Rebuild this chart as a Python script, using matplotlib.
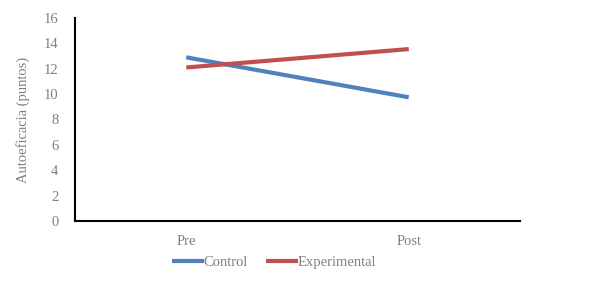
import matplotlib
matplotlib.use("Agg")
import matplotlib.pyplot as plt

categories = ["Pre", "Post"]
control = [12.9, 9.75]
experimental = [12.1, 13.55]

plt.rcParams["font.family"] = ["Liberation Serif", "DejaVu Serif"]
GRAY = "#7f7f7f"

fig = plt.figure(figsize=(6.08, 3.01), dpi=100)
ax = fig.add_axes([75 / 608, 1 - 221 / 301, 445 / 608, 203 / 301])

x = range(len(categories))
ax.plot(x, control, color="#4f81bd", lw=3, label="Control", solid_capstyle="butt")
ax.plot(x, experimental, color="#c0504d", lw=3, label="Experimental", solid_capstyle="butt")

ax.set_xlim(-0.5, 1.5)
ax.set_ylim(0, 16)
ax.set_yticks(range(0, 17, 2))
ax.set_xticks(list(x))
ax.set_xticklabels(categories)
ax.tick_params(length=0, colors=GRAY, labelsize=10.5)
ax.tick_params(axis="y", pad=12)
ax.tick_params(axis="x", pad=10)
for s in ["top", "right"]:
    ax.spines[s].set_visible(False)
for s in ["left", "bottom"]:
    ax.spines[s].set_color("black")
    ax.spines[s].set_linewidth(1.5)
ax.set_ylabel("Autoeficacia (puntos)", color=GRAY, fontsize=10.5, labelpad=10)

leg = fig.legend(loc="center", bbox_to_anchor=(274 / 608, 1 - 262 / 301), ncol=2,
                 frameon=False, handlelength=2.2, handletextpad=0.0, columnspacing=1.2,
                 prop={"size": 10.5})
for t in leg.get_texts():
    t.set_color(GRAY)

fig.savefig("out.png", dpi=100)
